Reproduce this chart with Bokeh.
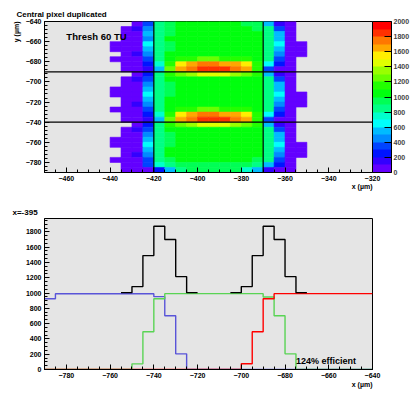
import math
from bokeh.plotting import figure
from bokeh.layouts import column
from bokeh.models import (LinearColorMapper, ColorBar, ColumnDataSource, Label, Span, Title,
                          SingleIntervalTicker, Range1d)
from bokeh.transform import transform
from bokeh.embed import file_html
from bokeh.resources import INLINE

# ---------------- data: top map (5 um bins) ----------------
map_x_first_edge = -440
map_y_top_edge = -640
map_bin_width = 5
# rows from top (y -645..-640) to bottom (y -790..-785); columns x -440..-350; 0 = empty bin
map_rows = [
    [0, 0, 50, 350, 850, 950, 1050, 1050, 1050, 1050, 1050, 1050, 950, 950, 550, 150, 50, 0],
    [0, 50, 150, 450, 850, 950, 1050, 1050, 1050, 1050, 1050, 1050, 1050, 950, 850, 350, 50, 0],
    [0, 50, 50, 550, 850, 950, 1050, 1050, 1050, 1050, 1050, 1050, 1050, 1050, 850, 550, 50, 0],
    [0, 50, 50, 450, 850, 1050, 1050, 1050, 1050, 1050, 1050, 1050, 1050, 1050, 850, 550, 50, 0],
    [50, 50, 50, 650, 850, 950, 1050, 1050, 1050, 1050, 1050, 1050, 1050, 1050, 850, 650, 50, 50],
    [50, 50, 50, 550, 850, 950, 1050, 1050, 1050, 1050, 1050, 1050, 1050, 1050, 850, 550, 50, 50],
    [0, 50, 150, 450, 850, 1050, 1050, 1050, 1050, 1050, 1050, 1050, 1050, 1050, 850, 450, 50, 50],
    [50, 50, 50, 350, 850, 1050, 1150, 1150, 1250, 1250, 1150, 1150, 1150, 1050, 850, 350, 50, 0],
    [0, 50, 50, 250, 750, 1150, 1550, 1650, 1750, 1750, 1650, 1650, 1550, 1150, 650, 250, 50, 0],
    [0, 50, 50, 150, 550, 1250, 1650, 1750, 1850, 1850, 1850, 1750, 1650, 1150, 350, 50, 50, 0],
    [0, 0, 50, 250, 850, 1150, 1250, 1350, 1450, 1450, 1450, 1350, 1250, 1150, 550, 150, 50, 0],
    [0, 50, 150, 350, 850, 1050, 1050, 1050, 1050, 1050, 1050, 1050, 1050, 1050, 850, 350, 50, 0],
    [0, 50, 50, 450, 850, 950, 1050, 1050, 1050, 1050, 1050, 1050, 1050, 1050, 850, 550, 50, 0],
    [50, 50, 50, 550, 850, 950, 1050, 1050, 1050, 1050, 1050, 1050, 1050, 1050, 850, 550, 50, 0],
    [50, 50, 50, 650, 850, 950, 1050, 1050, 1050, 1050, 1050, 1050, 1050, 1050, 850, 650, 50, 50],
    [0, 50, 50, 550, 850, 1050, 1050, 1050, 1050, 1050, 1050, 1050, 1050, 1050, 850, 550, 50, 50],
    [0, 50, 150, 450, 850, 1050, 1050, 1050, 1050, 1050, 1050, 1050, 1050, 1050, 850, 450, 50, 50],
    [50, 50, 50, 350, 850, 1050, 1150, 1150, 1250, 1250, 1150, 1150, 1150, 1050, 850, 350, 50, 0],
    [0, 50, 50, 250, 750, 1150, 1550, 1650, 1750, 1750, 1650, 1650, 1550, 1150, 650, 250, 50, 0],
    [0, 50, 50, 150, 550, 1250, 1650, 1750, 1850, 1850, 1850, 1750, 1650, 1150, 350, 50, 50, 0],
    [0, 0, 50, 250, 850, 1150, 1250, 1350, 1450, 1450, 1450, 1350, 1250, 1150, 550, 150, 50, 0],
    [0, 50, 150, 350, 850, 1050, 1050, 1050, 1050, 1050, 1050, 1050, 1050, 1050, 850, 350, 50, 0],
    [0, 50, 50, 450, 850, 950, 1050, 1050, 1050, 1050, 1050, 1050, 1050, 1050, 850, 550, 50, 0],
    [50, 50, 50, 550, 850, 950, 1050, 1050, 1050, 1050, 1050, 1050, 1050, 1050, 850, 550, 50, 0],
    [50, 50, 50, 650, 850, 950, 1050, 1050, 1050, 1050, 1050, 1050, 1050, 1050, 850, 650, 50, 50],
    [0, 50, 50, 550, 850, 1050, 1050, 1050, 1050, 1050, 1050, 1050, 1050, 1050, 850, 550, 50, 50],
    [0, 50, 150, 450, 850, 1050, 1050, 1050, 1050, 1050, 1050, 1050, 1050, 1050, 850, 450, 50, 50],
    [50, 50, 50, 350, 850, 950, 1050, 1050, 1050, 1050, 1050, 1050, 1050, 950, 850, 350, 50, 0],
    [0, 50, 50, 350, 750, 850, 950, 950, 950, 950, 950, 950, 950, 850, 550, 250, 50, 0],
    [0, 50, 50, 50, 250, 550, 850, 950, 950, 950, 950, 950, 750, 550, 150, 50, 50, 0],
]
pixel_edges_x = [-420, -370]
pixel_edges_y = [-740, -690]

# ---------------- data: slice x=-395 (5 um bins) ----------------
slice_edges = list(range(-790, -635, 5))
blue_counts = [926, 990, 990, 990, 990, 990, 990, 990, 990, 990, 953, 703, 205,
               0, 0, 0, 0, 0, 0, 0, 0, 0, 0, 0, 0, 0, 0, 0, 0, 0]
green_counts = [0, 0, 0, 0, 0, 0, 0, 0, 74, 494, 926, 992, 992, 992, 992, 992, 992, 992,
                992, 992, 948, 703, 205, 0, 0, 0, 0, 0, 0, 0]
red_counts = [0, 0, 0, 0, 0, 0, 0, 0, 0, 0, 0, 0, 0, 0, 0, 0, 0, 0,
              75, 494, 926, 992, 992, 992, 992, 992, 992, 992, 992, 992]
sum_peak1_edges = [-755, -750, -745, -740, -735, -730, -725, -720]
sum_peak1 = [1005, 1084, 1490, 1874, 1700, 1215, 1005]
sum_peak2_edges = [-705, -700, -695, -690, -685, -680, -675, -670]
sum_peak2 = [1005, 1084, 1490, 1874, 1700, 1215, 1005]

# ---------------- style ----------------
palette = ["#6300ff", "#3300ff", "#0014ff", "#0044ff", "#008bff", "#00bbff", "#00fffc",
           "#00ffcc", "#00ff85", "#00ff55", "#00ff0e", "#22ff00", "#69ff00", "#99ff00",
           "#e0ff00", "#ffee00", "#ffa700", "#ff7700", "#ff3000", "#ff0000"]
FONT = "Liberation Sans"
FRAME_FILL = "#e5e5e5"


def style_axes(p, xint, xminor, yint, yminor):
    p.xaxis.ticker = SingleIntervalTicker(interval=xint, num_minor_ticks=xminor)
    p.yaxis.ticker = SingleIntervalTicker(interval=yint, num_minor_ticks=yminor)
    for ax in (p.xaxis[0], p.yaxis[0]):
        ax.major_tick_in = 5
        ax.major_tick_out = 0
        ax.minor_tick_in = 3
        ax.minor_tick_out = 0
        ax.axis_line_color = "black"
        ax.major_tick_line_color = "black"
        ax.minor_tick_line_color = "black"
        ax.major_label_text_font = FONT
        ax.major_label_text_font_style = "bold"
        ax.major_label_text_font_size = "7px"
        ax.major_label_text_color = "black"
        ax.major_label_standoff = 3
    p.xgrid.visible = False
    p.ygrid.visible = False
    p.outline_line_color = "black"
    p.outline_line_width = 1
    p.background_fill_color = FRAME_FILL
    p.border_fill_color = "white"


def style_title(t, size, align, offset, standoff):
    t.text_font = FONT
    t.text_font_style = "bold"
    t.text_font_size = size
    t.text_color = "black"
    t.align = align
    t.offset = offset
    t.standoff = standoff


def add_side_title(p, text, place, size, align, offset, standoff):
    t = Title(text=text)
    style_title(t, size, align, offset, standoff)
    p.add_layout(t, place)


# ---------------- top figure ----------------
tx0, tx1, ty0, ty1 = -470, -320, -790, -640
top = figure(width=418, height=194, x_range=Range1d(tx0, tx1), y_range=Range1d(ty0, ty1),
             title="Central pixel duplicated",
             output_backend="svg", toolbar_location=None,
             min_border_left=44, min_border_right=46, min_border_top=21, min_border_bottom=22)
style_axes(top, 20, 4, 20, 5)
style_title(top.title, "8px", "left", -28, 5)

lefts, rights, tops, bottoms, vals = [], [], [], [], []
for i, row in enumerate(map_rows):
    for j, v in enumerate(row):
        if v > 0:
            lefts.append(map_x_first_edge + j * map_bin_width)
            rights.append(map_x_first_edge + (j + 1) * map_bin_width)
            tops.append(map_y_top_edge - i * map_bin_width)
            bottoms.append(map_y_top_edge - (i + 1) * map_bin_width)
            vals.append(v)
src = ColumnDataSource(dict(left=lefts, right=rights, top=tops, bottom=bottoms, v=vals))
mapper = LinearColorMapper(palette=palette, low=0, high=2000)
top.quad(left="left", right="right", top="top", bottom="bottom", source=src,
         fill_color=transform("v", mapper), line_color=transform("v", mapper), line_width=0.6)

for xe in pixel_edges_x:
    top.add_layout(Span(location=xe, dimension="height", line_color="black", line_width=1.2))
for ye in pixel_edges_y:
    top.add_layout(Span(location=ye, dimension="width", line_color="black", line_width=1.2))

cb = ColorBar(color_mapper=mapper, width=19, height=151, padding=0, margin=1,
              ticker=SingleIntervalTicker(interval=200), major_tick_in=7, major_tick_out=0,
              major_tick_line_color="black", minor_tick_line_color=None, label_standoff=2,
              major_label_text_font=FONT, major_label_text_font_style="bold",
              major_label_text_font_size="7px", bar_line_color="black",
              background_fill_alpha=0, border_line_color=None, location=(0, 0))
top.add_layout(cb, "right")

add_side_title(top, "y (\u00b5m)", "left", "7px", "right", 0, 6)
add_side_title(top, "x (\u00b5m)", "below", "7px", "right", 0, -5)
top.add_layout(Label(x=-460, y=-660, text="Thresh 60 TU", text_font=FONT,
                     text_font_style="bold", text_font_size="9.5px", text_color="black"))

# ---------------- bottom figure ----------------
bx0, bx1, by0, by1 = -790, -640, 0, 1975
bot = figure(width=418, height=198, x_range=Range1d(bx0, bx1), y_range=Range1d(by0, by1),
             title="x=-395",
             output_backend="svg", toolbar_location=None,
             min_border_left=44, min_border_right=46, min_border_top=24, min_border_bottom=23)
style_axes(bot, 20, 4, 200, 4)
style_title(bot.title, "8px", "left", -32, 4)


def hist_step(p, edges, counts, color):
    p.step(x=edges, y=counts + [counts[-1]], mode="after", line_color=color, line_width=1.4)


hist_step(bot, slice_edges, blue_counts, "#5954d8")
hist_step(bot, slice_edges, green_counts, "#59d454")
hist_step(bot, slice_edges, red_counts, "#ff0000")
hist_step(bot, sum_peak1_edges, sum_peak1, "black")
hist_step(bot, sum_peak2_edges, sum_peak2, "black")

bot.add_layout(Label(x=-675, y=50, text="124% efficient", text_font=FONT,
                     text_font_style="bold", text_font_size="9px", text_color="black"))
add_side_title(bot, "x (\u00b5m)", "below", "7px", "right", 0, -4)

layout = column(top, bot)
open("out.html", "w").write(file_html(layout, INLINE))
